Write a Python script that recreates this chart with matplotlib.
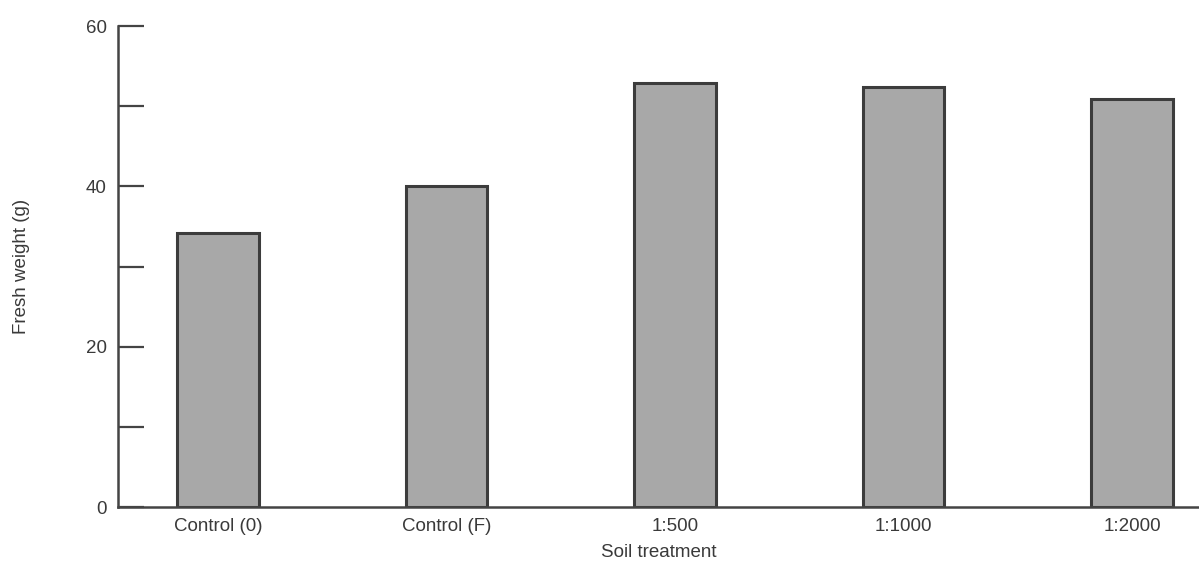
import numpy as np
import matplotlib.pyplot as plt

plt.rcParams['font.family'] = ['Liberation Sans', 'DejaVu Sans']

# data
treatments = ['Control (0)', 'Control (F)', '1:500', '1:1000', '1:2000']
fresh_weight = [34.2, 40.0, 52.9, 52.4, 50.9]

fig = plt.figure(figsize=(11.99, 5.66), dpi=100)
ax = fig.add_axes([0.0984, 0.104, 0.9016, 0.850])

x = np.arange(len(treatments))
ax.bar(x, fresh_weight, width=0.355, color='#a8a8a8', edgecolor='#3c3c3c',
       linewidth=2.2)

ax.set_xlim(-0.4376, 4.293)
ax.set_ylim(0, 60)
ax.set_yticks([0, 10, 20, 30, 40, 50, 60])
ax.set_yticklabels(['0', '', '20', '', '40', '', '60'])
ax.set_xticks(x)
ax.set_xticklabels(treatments)

for s in ['top', 'right']:
    ax.spines[s].set_visible(False)
for s in ['left', 'bottom']:
    ax.spines[s].set_color('#444444')
    ax.spines[s].set_linewidth(1.8)

ax.tick_params(axis='y', direction='in', length=19, width=1.6,
               color='#444444', labelsize=13.5, labelcolor='#3a3a3a', pad=8)
ax.tick_params(axis='x', length=0, labelsize=13.5, labelcolor='#3a3a3a', pad=8)

ax.set_xlabel('Soil treatment', fontsize=13.5, color='#3a3a3a', labelpad=6)
ax.set_ylabel('Fresh weight (g)', fontsize=13.5, color='#3a3a3a', labelpad=40)

fig.savefig('out.png', dpi=100)
